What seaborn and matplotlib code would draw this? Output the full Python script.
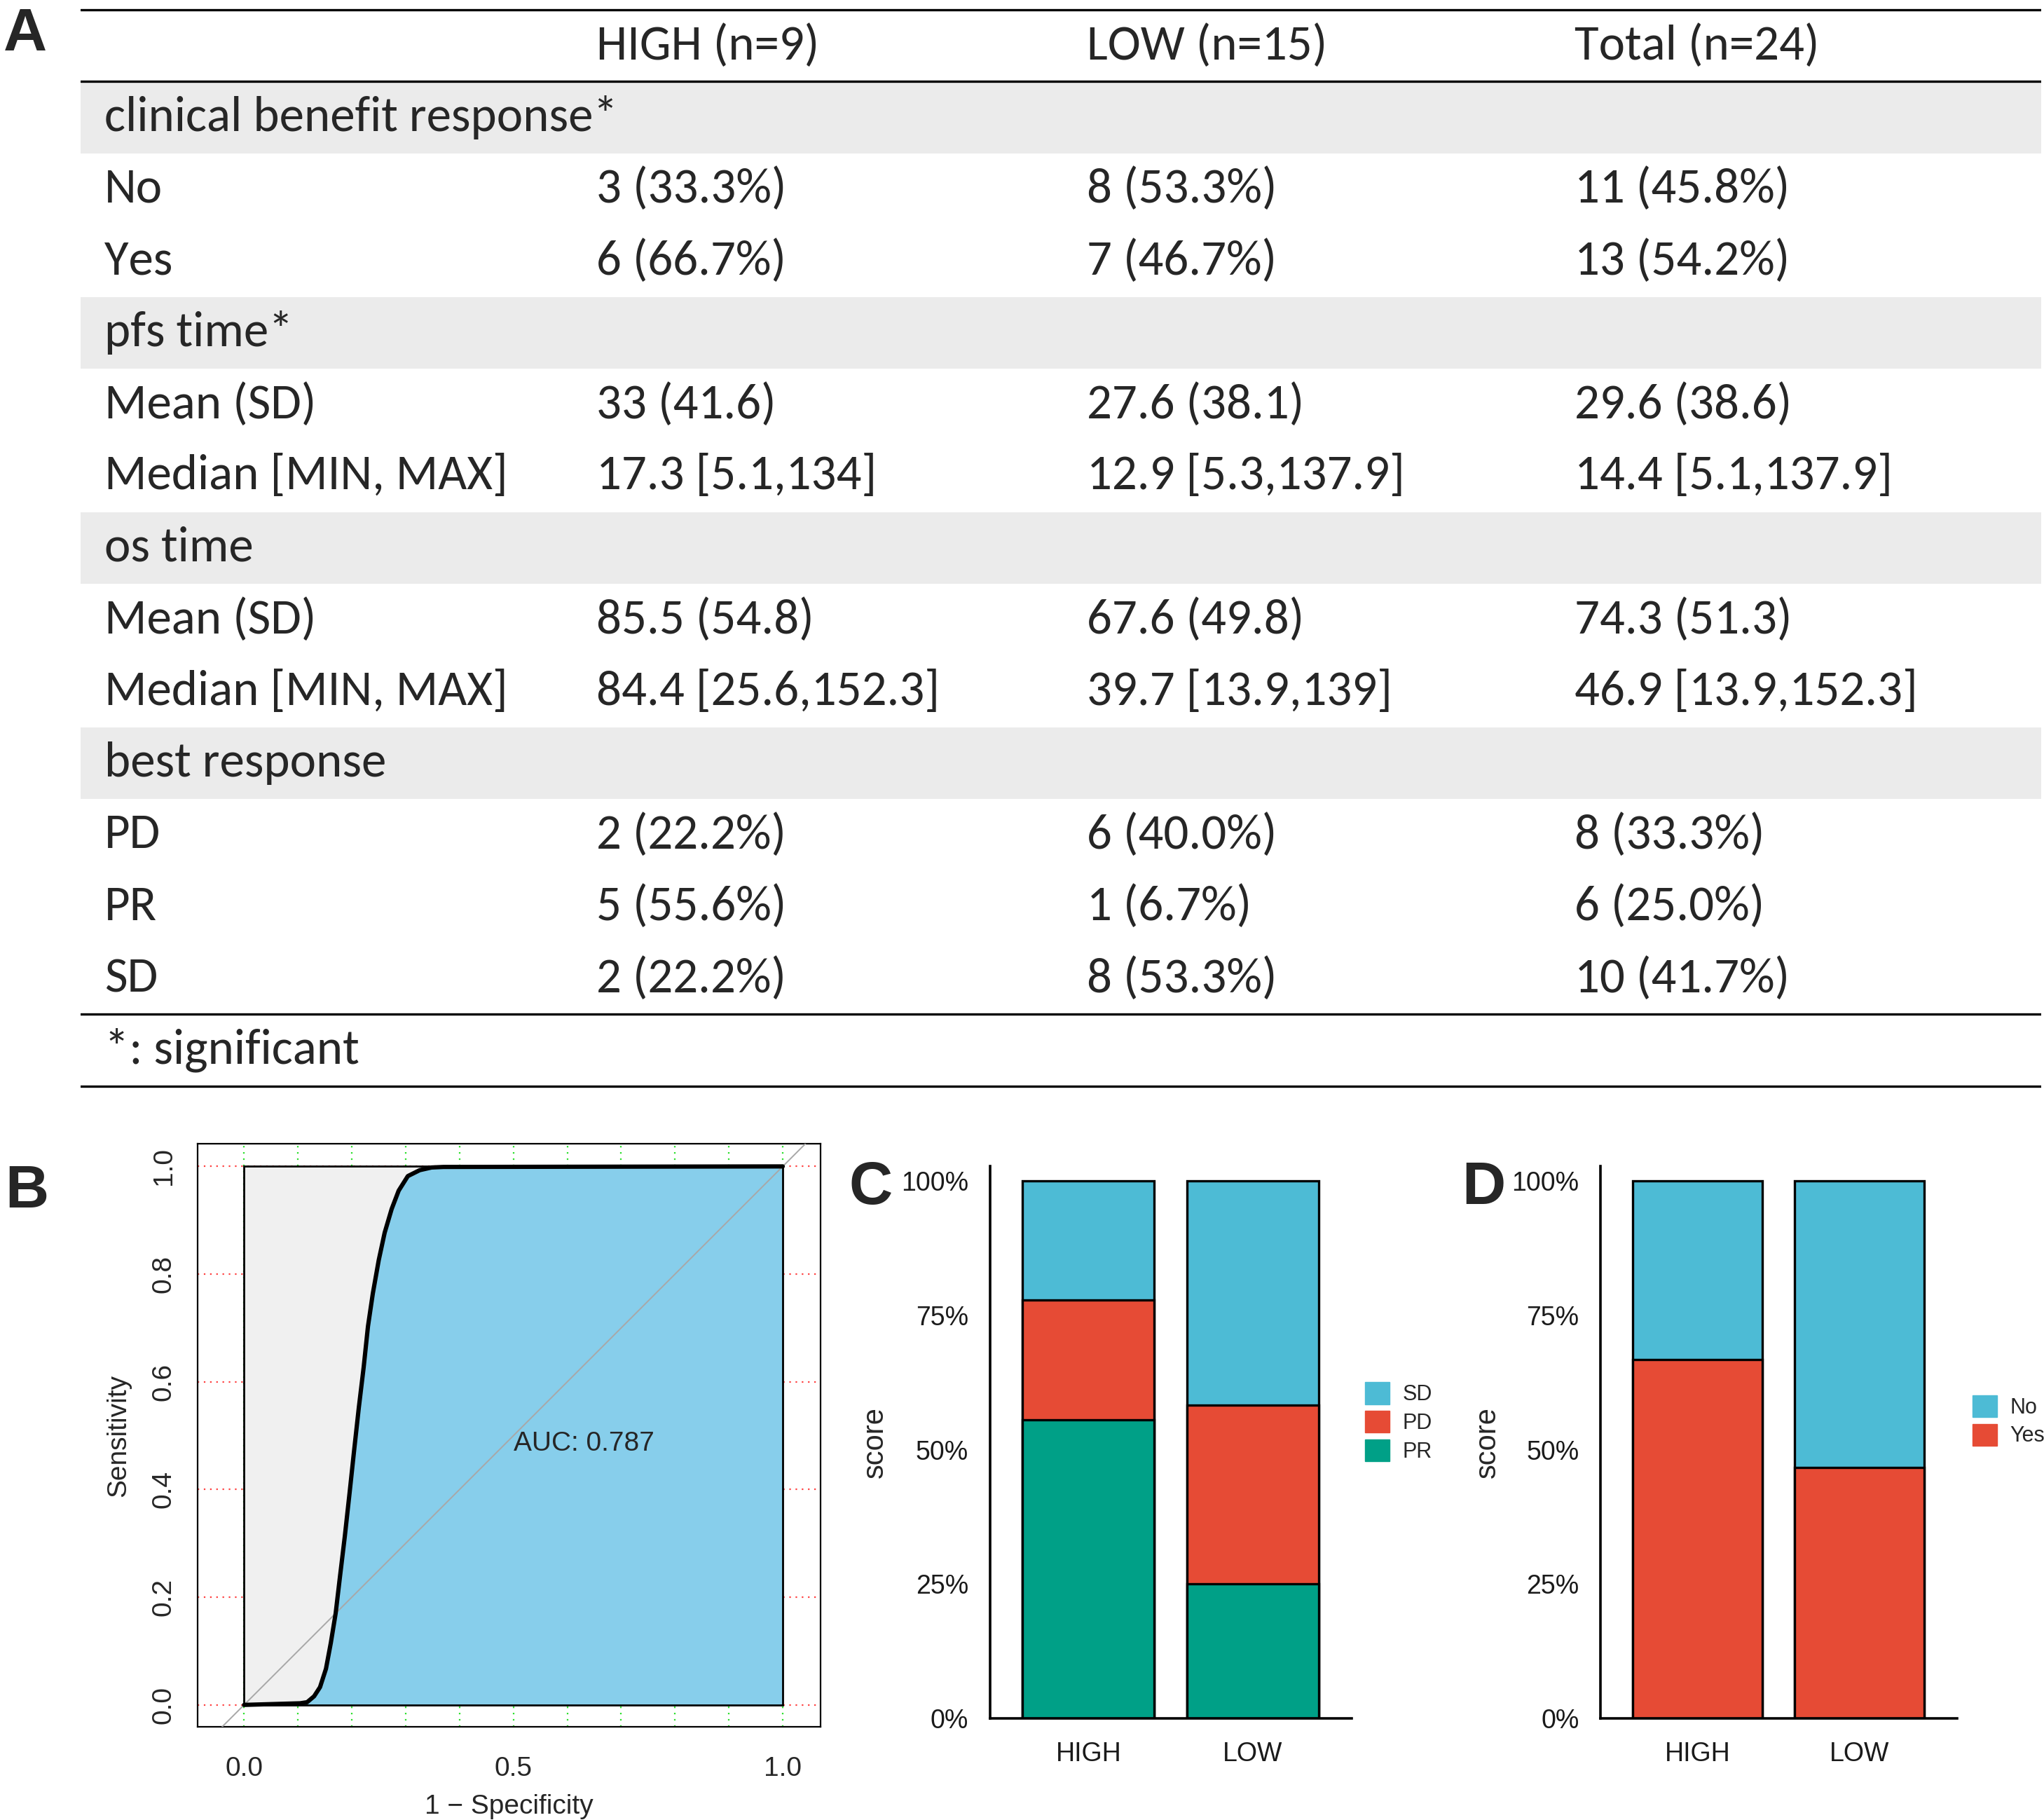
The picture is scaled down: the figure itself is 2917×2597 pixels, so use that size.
import numpy as np
import pandas as pd
import seaborn as sns

from matplotlib import pyplot as plt
from matplotlib import font_manager
from matplotlib.patches import Patch
from matplotlib.ticker import PercentFormatter

# ---- panel A: summary table ----
COLUMNS = ["HIGH (n=9)", "LOW (n=15)", "Total (n=24)"]
ROW_LABELS = [
    "clinical benefit response*", "No", "Yes",
    "pfs time*", "Mean (SD)", "Median [MIN, MAX]",
    "os time", "Mean (SD)", "Median [MIN, MAX]",
    "best response", "PD", "PR", "SD",
]
HIGH_VALUES = ["", "3 (33.3%)", "6 (66.7%)", "", "33 (41.6)", "17.3 [5.1,134]",
               "", "85.5 (54.8)", "84.4 [25.6,152.3]", "", "2 (22.2%)", "5 (55.6%)", "2 (22.2%)"]
LOW_VALUES = ["", "8 (53.3%)", "7 (46.7%)", "", "27.6 (38.1)", "12.9 [5.3,137.9]",
              "", "67.6 (49.8)", "39.7 [13.9,139]", "", "6 (40.0%)", "1 (6.7%)", "8 (53.3%)"]
TOTAL_VALUES = ["", "11 (45.8%)", "13 (54.2%)", "", "29.6 (38.6)", "14.4 [5.1,137.9]",
                "", "74.3 (51.3)", "46.9 [13.9,152.3]", "", "8 (33.3%)", "6 (25.0%)", "10 (41.7%)"]
SECTION_ROWS = [0, 3, 6, 9]
FOOTNOTE = "*: significant"

# ---- panel B: smoothed ROC curve ----
ROC_FPR = [0.0, 0.104, 0.117, 0.130, 0.141, 0.152, 0.161, 0.170, 0.178, 0.187, 0.196,
           0.204, 0.213, 0.222, 0.230, 0.239, 0.250, 0.261, 0.274, 0.287, 0.304,
           0.326, 0.348, 0.370, 1.0]
ROC_TPR = [0.0, 0.003, 0.005, 0.016, 0.033, 0.067, 0.115, 0.170, 0.238, 0.313, 0.395,
           0.470, 0.552, 0.627, 0.703, 0.764, 0.826, 0.877, 0.921, 0.955, 0.982,
           0.993, 0.998, 0.999, 1.0]
AUC = 0.787

# ---- panels C, D: stacked shares ----
GROUPS = ["HIGH", "LOW"]
PR_SHARE = [0.556, 0.250]
PD_SHARE = [0.222, 0.333]
SD_SHARE = [0.222, 0.417]
YES_SHARE = [0.667, 0.467]
NO_SHARE = [0.333, 0.533]

BLUE = "#4DBBD5"
RED = "#E64B35"
TEAL = "#00A087"

REF_W, REF_H = 1567, 1395  # layout measured on a 1567 px wide copy


def box(x0, y0, x1, y1):
    return [x0 / REF_W, 1 - y1 / REF_H, (x1 - x0) / REF_W, (y1 - y0) / REF_H]


def pick_font(*names):
    installed = {f.name for f in font_manager.fontManager.ttflist}
    for name in names:
        if name in installed:
            return name
    return "DejaVu Sans"


sns.set_style("white")
NARROW = pick_font("Liberation Sans Narrow", "Arial Narrow", "Liberation Sans")
TABLE_FONT = pick_font("Carlito", "Calibri", "Open Sans", "Lato")
plt.rcParams["font.family"] = [NARROW, "DejaVu Sans"]

fig = plt.figure(figsize=(29.17, 25.97), dpi=100)

# ---------------- A ----------------
ax_a = fig.add_axes(box(62, 5, 1565, 835))
ax_a.set_xlim(0, 1)
ax_a.set_ylim(14.545, -0.545)
ax_a.axis("off")
col_x = [0.012, 0.263, 0.513, 0.762]
TABLE_TEXT = {"fontsize": 51, "family": TABLE_FONT, "va": "center", "ha": "left"}

for x, name in zip(col_x[1:], COLUMNS):
    ax_a.text(x, 0, name, **TABLE_TEXT)
for i, label in enumerate(ROW_LABELS):
    row = i + 1
    if i in SECTION_ROWS:
        ax_a.axhspan(row - 0.5, row + 0.5, color="#EBEBEB", lw=0, zorder=0)
    ax_a.text(col_x[0], row, label, **TABLE_TEXT)
    for x, values in zip(col_x[1:], (HIGH_VALUES, LOW_VALUES, TOTAL_VALUES)):
        if values[i]:
            ax_a.text(x, row, values[i], **TABLE_TEXT)
n_rows = len(ROW_LABELS)
ax_a.text(col_x[0], n_rows + 1, FOOTNOTE, **TABLE_TEXT)
for y in (-0.5, 0.5, n_rows + 0.5, n_rows + 1.5):
    ax_a.axhline(y, color="black", lw=2.4, zorder=3)

# ---------------- B ----------------
ax_b = fig.add_axes(box(151.6, 876.7, 629, 1323.7))
ax_b.set_xlim(-0.086, 1.07)
ax_b.set_ylim(-0.041, 1.042)
for yv in np.linspace(0, 1, 6):
    ax_b.axhline(yv, color="#FF4040", ls=(0, (1, 3)), lw=1.6, zorder=1)
for xv in np.linspace(0, 1, 11):
    ax_b.axvline(xv, color="#30E030", ls=(0, (1, 3)), lw=1.6, zorder=1)

x0, x1 = min(ROC_FPR), max(ROC_FPR)
y0, y1 = min(ROC_TPR), max(ROC_TPR)
ax_b.fill([x0, x1, x1, x0], [y0, y0, y1, y1], facecolor="#F0F0F0", lw=0, zorder=2)
ax_b.fill_between(ROC_FPR, ROC_TPR, y0, color="#87CEEB", lw=0, zorder=3)
ax_b.fill([x0, x1, x1, x0], [y0, y0, y1, y1], facecolor="none", edgecolor="black", lw=2, zorder=4)
ax_b.axline((0, 0), (1, 1), color="#A8A8A8", lw=1.4, zorder=4)
sns.lineplot(x=ROC_FPR, y=ROC_TPR, sort=False, color="black", lw=4.4, ax=ax_b, zorder=5)
ax_b.text(0.5, 0.485, f"AUC: {AUC}", fontsize=28, ha="left", va="center", zorder=6)

ax_b.set_xticks([0, 0.5, 1.0])
ax_b.set_xticklabels(["0.0", "0.5", "1.0"])
ax_b.set_yticks(np.linspace(0, 1, 6))
ax_b.set_yticklabels([f"{v:.1f}" for v in np.linspace(0, 1, 6)], rotation=90, va="center")
ax_b.tick_params(axis="x", length=0, pad=30, labelsize=28)
ax_b.tick_params(axis="y", length=0, pad=22, labelsize=28)
for spine in ax_b.spines.values():
    spine.set_linewidth(1.6)
    spine.set_color("black")
ax_b.set_xlabel("1 \u2212 Specificity", fontsize=28)
ax_b.set_ylabel("Sensitivity", fontsize=28)
ax_b.xaxis.set_label_coords(0.5, -0.137)
ax_b.xaxis.label.set_va("center")
ax_b.yaxis.set_label_coords(-0.127, 0.5)
ax_b.yaxis.label.set_va("center")


# ---------------- C, D ----------------
def stacked_panel(ax, layers, colors):
    cum = np.cumsum(np.array(layers), axis=0)
    for level in reversed(range(len(layers))):
        df = pd.DataFrame({"group": GROUPS, "share": cum[level]})
        sns.barplot(data=df, x="group", y="share", color=colors[level], saturation=1,
                    width=0.8, edgecolor="black", linewidth=2.4, errorbar=None, ax=ax)
    ax.set_xlim(-0.6, 1.6)
    ax.set_ylim(0, 1.0275)
    ax.set_yticks([0, 0.25, 0.5, 0.75, 1.0])
    ax.yaxis.set_major_formatter(PercentFormatter(1.0, decimals=0))
    ax.spines[["top", "right"]].set_visible(False)
    for side in ("left", "bottom"):
        ax.spines[side].set_linewidth(2.6)
        ax.spines[side].set_color("black")
    ax.tick_params(axis="both", length=10, width=2.2, color="black", labelsize=27,
                   labelcolor="#1A1A1A")
    ax.tick_params(axis="y", pad=12)
    ax.tick_params(axis="x", pad=14)
    ax.set_xlabel("")
    ax.set_ylabel("score", fontsize=30, family="Liberation Sans")
    ax.yaxis.set_label_coords(-0.317, 0.5)
    ax.yaxis.label.set_va("center")


ax_c = fig.add_axes(box(758.8, 893.8, 1036, 1317.1))
stacked_panel(ax_c, [PR_SHARE, PD_SHARE, SD_SHARE], [TEAL, RED, BLUE])
ax_d = fig.add_axes(box(1227, 893.8, 1500.2, 1317.1))
stacked_panel(ax_d, [YES_SHARE, NO_SHARE], [RED, BLUE])

LEGEND_KW = dict(loc="center left", frameon=False, borderpad=0, borderaxespad=0,
                 fontsize=22, handlelength=1.15, handleheight=1.2,
                 labelspacing=0.25, handletextpad=0.6)
fig.legend(handles=[Patch(color=BLUE), Patch(color=RED), Patch(color=TEAL)],
           labels=["SD", "PD", "PR"],
           bbox_to_anchor=(1046.6 / REF_W, 1 - 1090.2 / REF_H), **LEGEND_KW)
fig.legend(handles=[Patch(color=BLUE), Patch(color=RED)],
           labels=["No", "Yes"],
           bbox_to_anchor=(1512 / REF_W, 1 - 1089.2 / REF_H), **LEGEND_KW)

# panel letters
LETTER = {"fontsize": 62, "fontweight": "bold", "ha": "left", "va": "center"}
fig.text(2.6 / REF_W, 1 - 27 / REF_H, "A", **LETTER)
fig.text(4 / REF_W, 1 - 913.5 / REF_H, "B", **LETTER)
fig.text(650.6 / REF_W, 1 - 911 / REF_H, "C", **LETTER)
fig.text(1120.6 / REF_W, 1 - 911 / REF_H, "D", **LETTER)

fig.savefig("out.png", dpi=100, facecolor="white")
